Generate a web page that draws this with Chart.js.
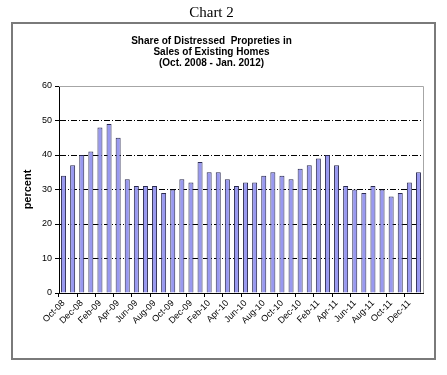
<!DOCTYPE html>
<html>
<head>
<meta charset="utf-8">
<script src="https://cdn.jsdelivr.net/npm/chart.js@4"></script>
<style>
  html, body { margin: 0; padding: 0; background: #ffffff; }
  #wrap { width: 447px; height: 375px; position: relative; }
</style>
</head>
<body>
<div id="wrap"><canvas id="c" width="447" height="375"></canvas></div>
<script>
const months = ["Oct-08","Nov-08","Dec-08","Jan-09","Feb-09","Mar-09","Apr-09","May-09","Jun-09","Jul-09",
  "Aug-09","Sep-09","Oct-09","Nov-09","Dec-09","Jan-10","Feb-10","Mar-10","Apr-10","May-10",
  "Jun-10","Jul-10","Aug-10","Sep-10","Oct-10","Nov-10","Dec-10","Jan-11","Feb-11","Mar-11",
  "Apr-11","May-11","Jun-11","Jul-11","Aug-11","Sep-11","Oct-11","Nov-11","Dec-11","Jan-12"];
const distressedShare = [34,37,40,41,48,49,45,33,31,31,
  31,29,30,33,32,38,35,35,33,31,
  32,32,34,35,34,33,36,37,39,40,
  37,31,30,29,31,30,28,29,32,35];
const yTicks = [0,10,20,30,40,50,60];
const pageTitle = "Chart 2";
const chartTitle = ["Share of Distressed  Propreties in", "Sales of Existing Homes", "(Oct. 2008 - Jan. 2012)"];
const yAxisTitle = "percent";

const framePlugin = {
  id: 'frame',
  beforeDatasetsDraw(chart) {
    const {ctx, chartArea: a} = chart;
    ctx.save();
    ctx.strokeStyle = '#a6a6a6';
    ctx.lineWidth = 1;
    ctx.beginPath();
    ctx.moveTo(a.left, a.top + 0.5);
    ctx.lineTo(a.right + 0.5, a.top + 0.5);
    ctx.lineTo(a.right + 0.5, a.bottom);
    ctx.stroke();
    ctx.restore();
  },
  afterDraw(chart) {
    const ctx = chart.ctx;
    ctx.save();
    ctx.strokeStyle = '#7a7a7a';
    ctx.lineWidth = 2;
    ctx.strokeRect(12, 23, 423, 336);
    ctx.restore();
  }
};

new Chart(document.getElementById('c'), {
  type: 'bar',
  data: {
    labels: months,
    datasets: [{
      data: distressedShare,
      backgroundColor: '#9999f0',
      borderColor: '#2a2a50',
      borderWidth: 1,
      borderSkipped: 'bottom',
      categoryPercentage: 1,
      barPercentage: 0.55
    }]
  },
  options: {
    responsive: false,
    animation: false,
    devicePixelRatio: 1,
    layout: { padding: { top: 0, left: 0, right: 24, bottom: 0 } },
    plugins: {
      legend: { display: false },
      tooltip: { enabled: false },
      title: {
        display: true,
        text: pageTitle,
        color: '#000',
        font: { family: '"Liberation Serif", "Times New Roman", serif', size: 15, weight: 'normal', lineHeight: 1.2 },
        padding: { top: 4, bottom: 0 }
      },
      subtitle: {
        display: true,
        text: chartTitle,
        color: '#000',
        font: { family: '"Liberation Sans", Arial, sans-serif', size: 10, weight: 'bold', lineHeight: 1.13 },
        padding: { top: 13.4, bottom: 16.7 }
      }
    },
    scales: {
      x: {
        offset: true,
        grid: {
          display: true,
          drawOnChartArea: false,
          drawTicks: true,
          tickLength: 4,
          offset: true,
          color: 'transparent',
          tickColor: (ctx) => (ctx.index % 2 === 0 ? '#000' : 'transparent'),
          tickWidth: 1
        },
        border: { display: true, color: '#000', width: 1 },
        ticks: {
          autoSkip: false,
          maxRotation: 45,
          minRotation: 45,
          padding: 1,
          color: '#000',
          font: { family: '"Liberation Sans", Arial, sans-serif', size: 9 },
          callback: function(val, idx) { return idx % 2 === 0 ? this.getLabelForValue(val) : ''; }
        },
        afterFit: (s) => { s.height = 82; }
      },
      y: {
        min: 0,
        max: 60,
        afterBuildTicks: (s) => { s.ticks = yTicks.map(v => ({ value: v })); },
        grid: {
          color: (ctx) => (ctx.tick && ctx.tick.value > 0 && ctx.tick.value < 60 ? '#000' : 'transparent'),
          lineWidth: 1,
          tickLength: 4,
          tickColor: '#000',
          tickBorderDash: []
        },
        border: { display: true, color: '#000', width: 1, dash: [6, 2, 1, 2] },
        ticks: {
          padding: 3,
          color: '#000',
          font: { family: '"Liberation Sans", Arial, sans-serif', size: 9 }
        },
        title: {
          display: true,
          text: yAxisTitle,
          color: '#000',
          font: { family: '"Liberation Sans", Arial, sans-serif', size: 11, weight: 'bold', lineHeight: 1.2 },
          padding: { top: 21, bottom: 0 }
        },
        afterFit: (s) => { s.width = 59; }
      }
    }
  },
  plugins: [framePlugin]
});
</script>
</body>
</html>
